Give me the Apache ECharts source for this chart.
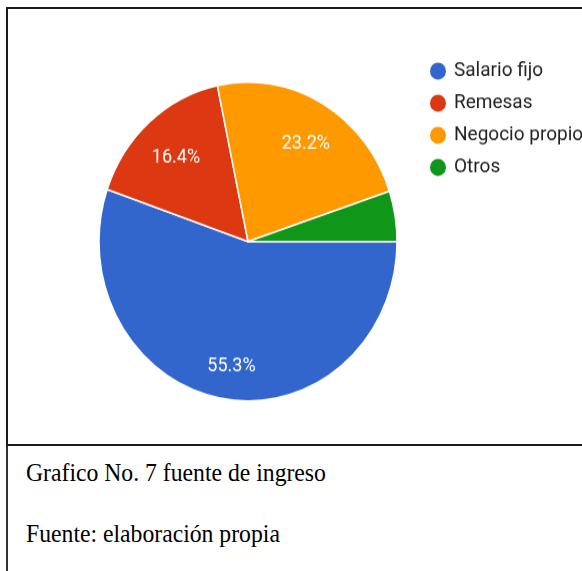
<!DOCTYPE html>
<html>
<head>
<meta charset="utf-8">
<script src="https://cdn.jsdelivr.net/npm/echarts@6/dist/echarts.min.js"></script>
<style>
  html, body { margin: 0; padding: 0; background: #fff; }
  .page { position: relative; width: 582px; height: 571px; overflow: hidden; }
  .box {
    position: absolute; left: 6px; top: 7px; width: 600px; height: 439px;
    border: 2px solid #1a1a1a; box-sizing: border-box;
  }
  .caption-line {
    position: absolute; left: 6px; top: 446px; width: 2px; height: 130px; background: #333;
  }
  #chart {
    position: absolute; left: 0; top: 0; width: 582px; height: 400px;
    transform: scaleY(1.07); transform-origin: 0 0;
  }
  .cap {
    position: absolute; left: 26px; font-family: "Liberation Serif", "Times New Roman", serif;
    font-size: 23.7px; line-height: 28px; color: #000; white-space: nowrap;
    transform: scaleY(1.07); transform-origin: 0 100%;
  }
</style>
</head>
<body>
<div class="page">
  <div class="box"></div>
  <div class="caption-line"></div>
  <div id="chart"></div>
  <div class="cap" style="top: 459px;">Grafico No. 7 fuente de ingreso</div>
  <div class="cap" style="top: 520px;">Fuente: elaboración propia</div>
</div>
<script>
  // datos del gráfico
  var categorias = ['Salario fijo', 'Remesas', 'Negocio propio', 'Otros'];
  var valores = [55.3, 16.4, 23.2, 5.1];
  var colores = ['#3366cc', '#dc3912', '#ff9900', '#109618'];

  var chart = echarts.init(document.getElementById('chart'));

  var datos = categorias.map(function (c, i) {
    return { name: c, value: valores[i] };
  });
  // etiquetas en una serie transparente para que queden mas hacia fuera
  var datosEtiquetas = categorias.map(function (c, i) {
    return {
      name: c,
      value: valores[i],
      label: { show: valores[i] > 10 }
    };
  });

  chart.setOption({
    animation: false,
    color: colores,
    legend: {
      orient: 'vertical',
      left: 428,
      top: 56.4,
      padding: 0,
      icon: 'circle',
      itemWidth: 18,
      itemHeight: 18,
      itemGap: 10,
      selectedMode: false,
      data: categorias,
      textStyle: {
        fontFamily: 'Roboto',
        fontSize: 19,
        color: '#222',
        padding: [0, 0, 0, 2]
      }
    },
    series: [{
      name: 'fuente',
      type: 'pie',
      center: [248, 225.7],
      radius: [0, 149],
      startAngle: 0,
      clockwise: true,
      label: { show: false },
      labelLine: { show: false },
      itemStyle: { borderColor: '#fff', borderWidth: 1.5 },
      emphasis: { disabled: true },
      data: datos
    }, {
      name: 'etiquetas',
      type: 'pie',
      center: [248, 225.7],
      radius: [0, 218],
      startAngle: 0,
      clockwise: true,
      silent: true,
      z: 3,
      itemStyle: { color: 'transparent', borderWidth: 0 },
      labelLine: { show: false },
      label: {
        position: 'inside',
        offset: [2, 6],
        formatter: function (p) { return p.value.toFixed(1) + '%'; },
        fontFamily: 'Roboto',
        fontSize: 18,
        color: '#fff'
      },
      emphasis: { disabled: true },
      data: datosEtiquetas
    }]
  });
</script>
</body>
</html>
